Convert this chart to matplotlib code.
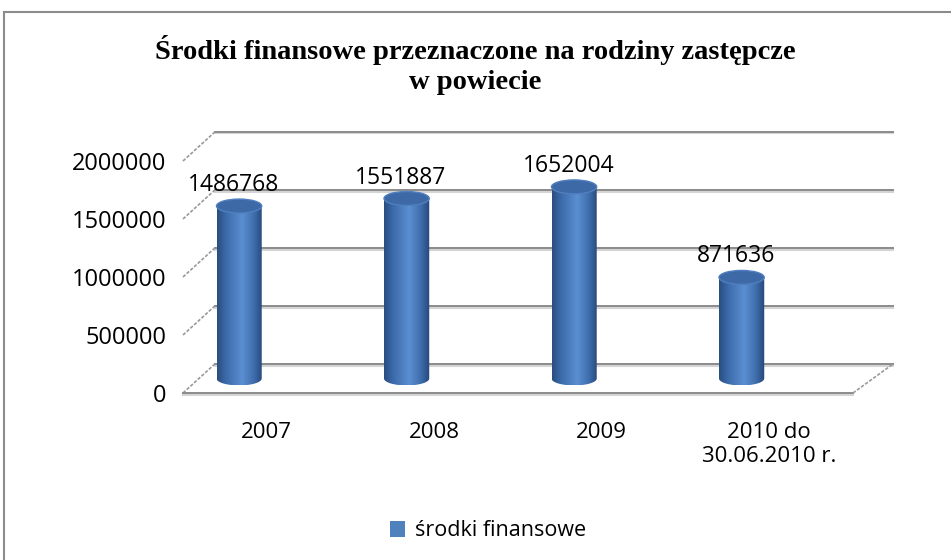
import numpy as np
import matplotlib
matplotlib.use("Agg")
import matplotlib.pyplot as plt
from matplotlib.path import Path
from matplotlib.patches import PathPatch, Ellipse, Patch
from matplotlib.colors import LinearSegmentedColormap
from matplotlib.lines import Line2D

# dane
kategorie = ['2007', '2008', '2009', '2010 do\n30.06.2010 r.']
wartosci = [1486768, 1551887, 1652004, 871636]
ticki_y = [0, 500000, 1000000, 1500000, 2000000]
seria = 'środki finansowe'
tytul = 'Środki finansowe przeznaczone na rodziny zastępcze\nw powiecie'

W, H = 951, 560
fig = plt.figure(figsize=(W / 100, H / 100), dpi=100)
ax = fig.add_axes([183 / W, 1 - 393 / H, 670 / W, 232 / H])
ax.set_xlim(0, 4)
ax.set_ylim(0, 2000000)
ax.patch.set_alpha(0)
for s in ax.spines.values():
    s.set_visible(False)

# glebia efektu 3D (w jednostkach danych)
DX = 0.19
DX_R = 0.239
DY = 250000

grid_col = '#8a8a8a'
shadow_col = '#d4d4d4'
px_y = 500000 / 58.0

for v in ticki_y:
    yb = v + DY
    ax.plot([DX, 4 + DX_R], [yb - 1.5 * px_y, yb - 1.5 * px_y], color=shadow_col, lw=1.5, clip_on=False, zorder=1)
    ax.plot([DX, 4 + DX_R], [yb, yb], color=grid_col, lw=1.4, clip_on=False, zorder=2)
    ax.plot([0, DX], [v, yb], color='#9a9a9a', lw=1.2, ls=(0, (2, 1)), clip_on=False, zorder=2)

# podloga
ax.plot([0, 4], [0, 0], color=grid_col, lw=1.4, clip_on=False, zorder=2)
ax.plot([4, 4 + DX_R], [0, DY], color='#9a9a9a', lw=1.2, ls=(0, (2, 1)), clip_on=False, zorder=2)
ax.plot([0, 4], [-1.5 * px_y, -1.5 * px_y], color=shadow_col, lw=1.5, clip_on=False, zorder=1)

# walce
cmap = LinearSegmentedColormap.from_list(
    'walec', [(0, '#2a4e80'), (0.18, '#3b69a8'), (0.55, '#5a8fd2'), (0.82, '#3e6caa'), (1, '#26487a')])
grad = np.linspace(0, 1, 64).reshape(1, -1)
bw = 0.27
eh = 120000
for i, v in enumerate(wartosci):
    xc = i + 0.5 - 0.165
    xl, xr = xc - bw / 2, xc + bw / 2
    base = DY / 2
    top = v + DY / 2
    t = np.linspace(np.pi, 2 * np.pi, 40)
    ex = xc + bw / 2 * np.cos(t)
    ey = base + eh / 2 * np.sin(t)
    verts = [(xl, top)] + list(zip(ex, ey)) + [(xr, top), (xl, top)]
    codes = [Path.MOVETO] + [Path.LINETO] * (len(verts) - 2) + [Path.CLOSEPOLY]
    clip = PathPatch(Path(verts, codes), transform=ax.transData, facecolor='none', edgecolor='none')
    ax.add_patch(clip)
    im = ax.imshow(grad, cmap=cmap, extent=[xl, xr, base - eh / 2, top], aspect='auto', zorder=3)
    im.set_clip_path(clip)
    ax.add_patch(Ellipse((xc, top), bw, eh, facecolor='#3d69a6', edgecolor='#4f7fbf', lw=1, zorder=4))
    ax.text(i + 0.5 - 0.2, top + eh / 2 + 2 * px_y, f'{v}', ha='center', va='bottom',
            fontsize=16.5, family='Open Sans', color='black', zorder=5)

ax.set_xlim(0, 4)
ax.set_ylim(0, 2000000)

ax.set_yticks(ticki_y)
ax.set_yticklabels([str(v) for v in ticki_y], fontsize=17, family='Open Sans')
ax.set_xticks([i + 0.5 for i in range(len(kategorie))])
ax.set_xticklabels(kategorie, fontsize=16, family='Open Sans', linespacing=1.2)
ax.tick_params(axis='y', length=0, pad=12)
ax.tick_params(axis='x', length=0, pad=21)

fig.text(0.5, 1 - 65 / H, tytul, ha='center', va='center', fontsize=20.5, fontweight='bold',
         family='Liberation Serif', linespacing=1.28)

fig.legend(handles=[Patch(facecolor='#4f81bd', edgecolor='none', label=seria)], loc='center',
           bbox_to_anchor=(488 / W, 1 - 531 / H), frameon=False, handlelength=0.7, handleheight=0.7,
           handletextpad=0.45, prop={'family': 'Open Sans', 'size': 15.5})

# ramka wykresu
fig.add_artist(Line2D([4 / W, 1.0], [1 - 12 / H, 1 - 12 / H], transform=fig.transFigure, color='#8c8c8c', lw=1.5))
fig.add_artist(Line2D([4 / W, 4 / W], [0, 1 - 12 / H], transform=fig.transFigure, color='#8c8c8c', lw=1.5))

fig.savefig('out.png', dpi=100)
